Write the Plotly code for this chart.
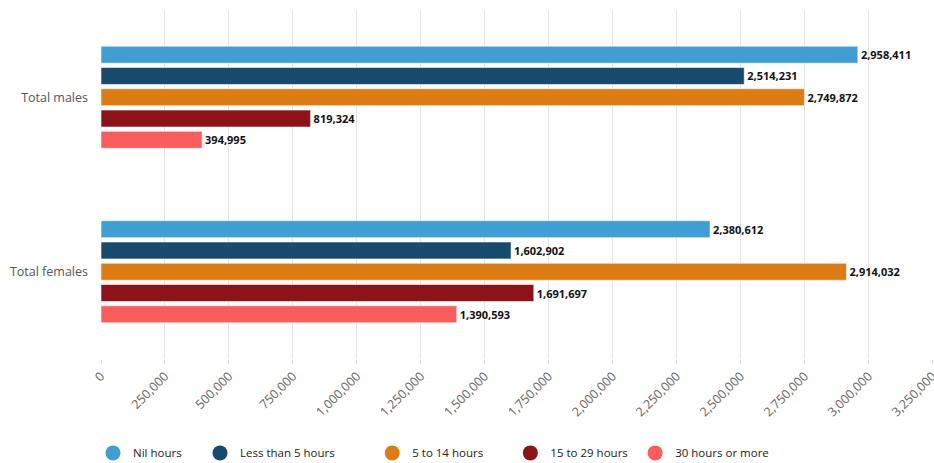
import plotly.graph_objects as go

categories = ["Total males", "Total females"]
series_names = ["Nil hours", "Less than 5 hours", "5 to 14 hours", "15 to 29 hours", "30 hours or more"]
nil_hours = [2958411, 2380612]
less_than_5 = [2514231, 1602902]
five_to_14 = [2749872, 2914032]
fifteen_to_29 = [819324, 1691697]
thirty_plus = [394995, 1390593]
tick_vals = [0, 250000, 500000, 750000, 1000000, 1250000, 1500000, 1750000,
             2000000, 2250000, 2500000, 2750000, 3000000, 3250000]

series_values = [nil_hours, less_than_5, five_to_14, fifteen_to_29, thirty_plus]
colors = ["#3f9fd4", "#164b6e", "#de7c14", "#8d1219", "#fb5d5d"]
legend_x = [-0.0096, 0.119, 0.326, 0.492, 0.642]

fig = go.Figure()
for name, vals, col in zip(series_names, series_values, colors):
    fig.add_trace(go.Bar(
        y=categories, x=vals, orientation="h", name=name,
        marker=dict(color=col, line=dict(color="rgba(255,255,255,0.6)", width=1)),
        texttemplate="%{x:,}", textposition="outside", cliponaxis=False,
        textfont=dict(family="Open Sans", size=11, color="#111111", weight="bold"),
        showlegend=False,
    ))

layout_legends = {}
for i, (name, col) in enumerate(zip(series_names, colors)):
    key = "legend" if i == 0 else f"legend{i+1}"
    fig.add_trace(go.Scatter(
        x=[None], y=[None], mode="markers", name=name,
        marker=dict(symbol="circle", size=15, color=col),
        legend=key, showlegend=True,
    ))
    layout_legends[key] = dict(
        x=legend_x[i], y=-0.269, xref="paper",
        xanchor="left", yanchor="middle", orientation="h",
        font=dict(family="Open Sans", size=11.5, color="#222222"),
        bgcolor="rgba(0,0,0,0)", itemsizing="trace",
    )

fig.update_layout(
    width=934, height=463,
    margin=dict(l=101, r=1, t=10, b=104, autoexpand=False),
    paper_bgcolor="white", plot_bgcolor="white",
    barmode="group", bargap=0.39, bargroupgap=0.2,
    font=dict(family="Open Sans", color="#555555"),
    xaxis=dict(
        range=[0, 3252000], tickvals=tick_vals, tickformat=",",
        tickangle=-45, showgrid=True, gridcolor="#e3e3e3", gridwidth=1,
        zeroline=False, ticks="outside", ticklen=4, tickcolor="#e3e3e3",
        tickfont=dict(family="Open Sans", size=12.5, color="#666666"),
        ticklabeloverflow="allow", automargin=False,
        showline=False, fixedrange=True,
    ),
    yaxis=dict(
        autorange="reversed", showgrid=False, zeroline=False, ticks="",
        tickfont=dict(family="Open Sans", size=12.5, color="#555555"),
        ticklabelstandoff=12, automargin=False,
    ),
    **layout_legends,
)

fig.write_html("out.html")
